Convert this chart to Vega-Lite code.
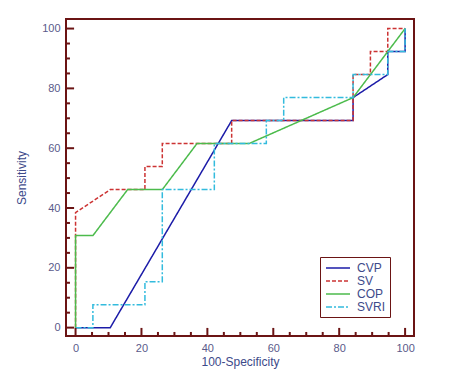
{
  "$schema": "https://vega.github.io/schema/vega-lite/v6.json",
  "width": 348,
  "height": 317,
  "autosize": "none",
  "padding": {"left": 66, "top": 19, "right": 42, "bottom": 36},
  "background": "white",
  "config": {
    "view": {"stroke": "#6b1414", "strokeWidth": 2},
    "font": "Liberation Sans"
  },
  "datasets": {
    "roc": [
      {"s": "CVP", "i": 0, "fpr": 0, "tpr": 0},
      {"s": "CVP", "i": 1, "fpr": 10.53, "tpr": 0},
      {"s": "CVP", "i": 2, "fpr": 47.37, "tpr": 69.23},
      {"s": "CVP", "i": 3, "fpr": 84.21, "tpr": 69.23},
      {"s": "CVP", "i": 4, "fpr": 84.21, "tpr": 76.92},
      {"s": "CVP", "i": 5, "fpr": 94.74, "tpr": 84.62},
      {"s": "CVP", "i": 6, "fpr": 94.74, "tpr": 92.31},
      {"s": "CVP", "i": 7, "fpr": 100, "tpr": 92.31},
      {"s": "CVP", "i": 8, "fpr": 100, "tpr": 100},
      {"s": "SV", "i": 0, "fpr": 0, "tpr": 0},
      {"s": "SV", "i": 1, "fpr": 0, "tpr": 38.46},
      {"s": "SV", "i": 2, "fpr": 10.53, "tpr": 46.15},
      {"s": "SV", "i": 3, "fpr": 21.05, "tpr": 46.15},
      {"s": "SV", "i": 4, "fpr": 21.05, "tpr": 53.85},
      {"s": "SV", "i": 5, "fpr": 26.32, "tpr": 53.85},
      {"s": "SV", "i": 6, "fpr": 26.32, "tpr": 61.54},
      {"s": "SV", "i": 7, "fpr": 47.37, "tpr": 61.54},
      {"s": "SV", "i": 8, "fpr": 47.37, "tpr": 69.23},
      {"s": "SV", "i": 9, "fpr": 84.21, "tpr": 69.23},
      {"s": "SV", "i": 10, "fpr": 84.21, "tpr": 84.62},
      {"s": "SV", "i": 11, "fpr": 89.47, "tpr": 84.62},
      {"s": "SV", "i": 12, "fpr": 89.47, "tpr": 92.31},
      {"s": "SV", "i": 13, "fpr": 94.74, "tpr": 92.31},
      {"s": "SV", "i": 14, "fpr": 94.74, "tpr": 100},
      {"s": "SV", "i": 15, "fpr": 100, "tpr": 100},
      {"s": "COP", "i": 0, "fpr": 0, "tpr": 0},
      {"s": "COP", "i": 1, "fpr": 0, "tpr": 30.77},
      {"s": "COP", "i": 2, "fpr": 5.26, "tpr": 30.77},
      {"s": "COP", "i": 3, "fpr": 15.79, "tpr": 46.15},
      {"s": "COP", "i": 4, "fpr": 26.32, "tpr": 46.15},
      {"s": "COP", "i": 5, "fpr": 36.84, "tpr": 61.54},
      {"s": "COP", "i": 6, "fpr": 52.63, "tpr": 61.54},
      {"s": "COP", "i": 7, "fpr": 84.21, "tpr": 76.92},
      {"s": "COP", "i": 8, "fpr": 100, "tpr": 100},
      {"s": "SVRI", "i": 0, "fpr": 0, "tpr": 0},
      {"s": "SVRI", "i": 1, "fpr": 5.26, "tpr": 0},
      {"s": "SVRI", "i": 2, "fpr": 5.26, "tpr": 7.69},
      {"s": "SVRI", "i": 3, "fpr": 21.05, "tpr": 7.69},
      {"s": "SVRI", "i": 4, "fpr": 21.05, "tpr": 15.38},
      {"s": "SVRI", "i": 5, "fpr": 26.32, "tpr": 15.38},
      {"s": "SVRI", "i": 6, "fpr": 26.32, "tpr": 46.15},
      {"s": "SVRI", "i": 7, "fpr": 42.11, "tpr": 46.15},
      {"s": "SVRI", "i": 8, "fpr": 42.11, "tpr": 61.54},
      {"s": "SVRI", "i": 9, "fpr": 57.89, "tpr": 61.54},
      {"s": "SVRI", "i": 10, "fpr": 57.89, "tpr": 69.23},
      {"s": "SVRI", "i": 11, "fpr": 63.16, "tpr": 69.23},
      {"s": "SVRI", "i": 12, "fpr": 63.16, "tpr": 76.92},
      {"s": "SVRI", "i": 13, "fpr": 84.21, "tpr": 76.92},
      {"s": "SVRI", "i": 14, "fpr": 84.21, "tpr": 84.62},
      {"s": "SVRI", "i": 15, "fpr": 94.74, "tpr": 84.62},
      {"s": "SVRI", "i": 16, "fpr": 94.74, "tpr": 92.31},
      {"s": "SVRI", "i": 17, "fpr": 100, "tpr": 92.31},
      {"s": "SVRI", "i": 18, "fpr": 100, "tpr": 100}
    ],
    "ticks": [
      {"v": 0, "kind": "major"}, {"v": 5, "kind": "minor"}, {"v": 10, "kind": "minor"}, {"v": 15, "kind": "minor"},
      {"v": 20, "kind": "major"}, {"v": 25, "kind": "minor"}, {"v": 30, "kind": "minor"}, {"v": 35, "kind": "minor"},
      {"v": 40, "kind": "major"}, {"v": 45, "kind": "minor"}, {"v": 50, "kind": "minor"}, {"v": 55, "kind": "minor"},
      {"v": 60, "kind": "major"}, {"v": 65, "kind": "minor"}, {"v": 70, "kind": "minor"}, {"v": 75, "kind": "minor"},
      {"v": 80, "kind": "major"}, {"v": 85, "kind": "minor"}, {"v": 90, "kind": "minor"}, {"v": 95, "kind": "minor"},
      {"v": 100, "kind": "major"}
    ]
  },
  "layer": [
    {
      "data": {"name": "roc"},
      "mark": {"type": "line", "strokeWidth": 1.5, "clip": true},
      "encoding": {
        "x": {
          "field": "fpr", "type": "quantitative",
          "scale": {"domain": [-2.9, 102.7], "nice": false, "zero": false},
          "axis": {
            "orient": "bottom",
            "title": "100-Specificity",
            "titleFont": "Liberation Sans", "titleFontSize": 12, "titleFontWeight": "normal", "titleColor": "#3d4a8a",
            "titlePadding": 3,
            "values": [0, 20, 40, 60, 80, 100],
            "labelFont": "Liberation Sans", "labelFontSize": 11, "labelColor": "#5a5a8a",
            "labelPadding": 6,
            "domain": false, "grid": false, "ticks": false
          }
        },
        "y": {
          "field": "tpr", "type": "quantitative",
          "scale": {"domain": [-2.8, 103.2], "nice": false, "zero": false},
          "axis": {
            "orient": "left",
            "title": "Sensitivity",
            "titleFont": "Liberation Sans", "titleFontSize": 12, "titleFontWeight": "normal", "titleColor": "#3d4a8a",
            "titlePadding": 13,
            "values": [0, 20, 40, 60, 80, 100],
            "labelFont": "Liberation Sans", "labelFontSize": 11, "labelColor": "#5a5a8a",
            "labelPadding": 6,
            "domain": false, "grid": false, "ticks": false
          }
        },
        "color": {
          "field": "s", "type": "nominal",
          "scale": {"domain": ["CVP", "SV", "COP", "SVRI"], "range": ["#1c1ca8", "#cc3333", "#4cbb4c", "#33bbdd"]},
          "legend": {
            "title": null, "orient": "none", "legendX": 254, "legendY": 238,
            "strokeColor": "#6b1414", "padding": 4,
            "symbolType": "M-2,0H2", "symbolStrokeWidth": 1.5, "symbolSize": 144,
            "symbolOffset": 7, "labelOffset": 12,
            "labelFont": "Liberation Sans", "labelFontSize": 12, "labelColor": "#3d4a8a",
            "rowPadding": -1
          }
        },
        "strokeDash": {
          "field": "s", "type": "nominal",
          "scale": {"domain": ["CVP", "SV", "COP", "SVRI"], "range": [[1, 0], [4, 2], [1, 0], [6, 2, 2, 2]]},
          "legend": null
        },
        "order": {"field": "i", "type": "quantitative"}
      }
    },
    {
      "data": {"name": "ticks"},
      "transform": [{"filter": "datum.kind === 'major'"}],
      "mark": {"type": "rule", "color": "#6b1414", "strokeWidth": 2},
      "encoding": {
        "x": {"field": "v", "type": "quantitative"},
        "y": {"datum": -2.8, "type": "quantitative"},
        "y2": {"datum": -0.1}
      }
    },
    {
      "data": {"name": "ticks"},
      "transform": [{"filter": "datum.kind === 'minor'"}],
      "mark": {"type": "rule", "color": "#6b1414", "strokeWidth": 2},
      "encoding": {
        "x": {"field": "v", "type": "quantitative"},
        "y": {"datum": -2.8, "type": "quantitative"},
        "y2": {"datum": -1.45}
      }
    },
    {
      "data": {"name": "ticks"},
      "transform": [{"filter": "datum.kind === 'major'"}],
      "mark": {"type": "rule", "color": "#6b1414", "strokeWidth": 2},
      "encoding": {
        "y": {"field": "v", "type": "quantitative"},
        "x": {"datum": -2.9, "type": "quantitative"},
        "x2": {"datum": -0.45}
      }
    },
    {
      "data": {"name": "ticks"},
      "transform": [{"filter": "datum.kind === 'minor'"}],
      "mark": {"type": "rule", "color": "#6b1414", "strokeWidth": 2},
      "encoding": {
        "y": {"field": "v", "type": "quantitative"},
        "x": {"datum": -2.9, "type": "quantitative"},
        "x2": {"datum": -1.7}
      }
    }
  ]
}
